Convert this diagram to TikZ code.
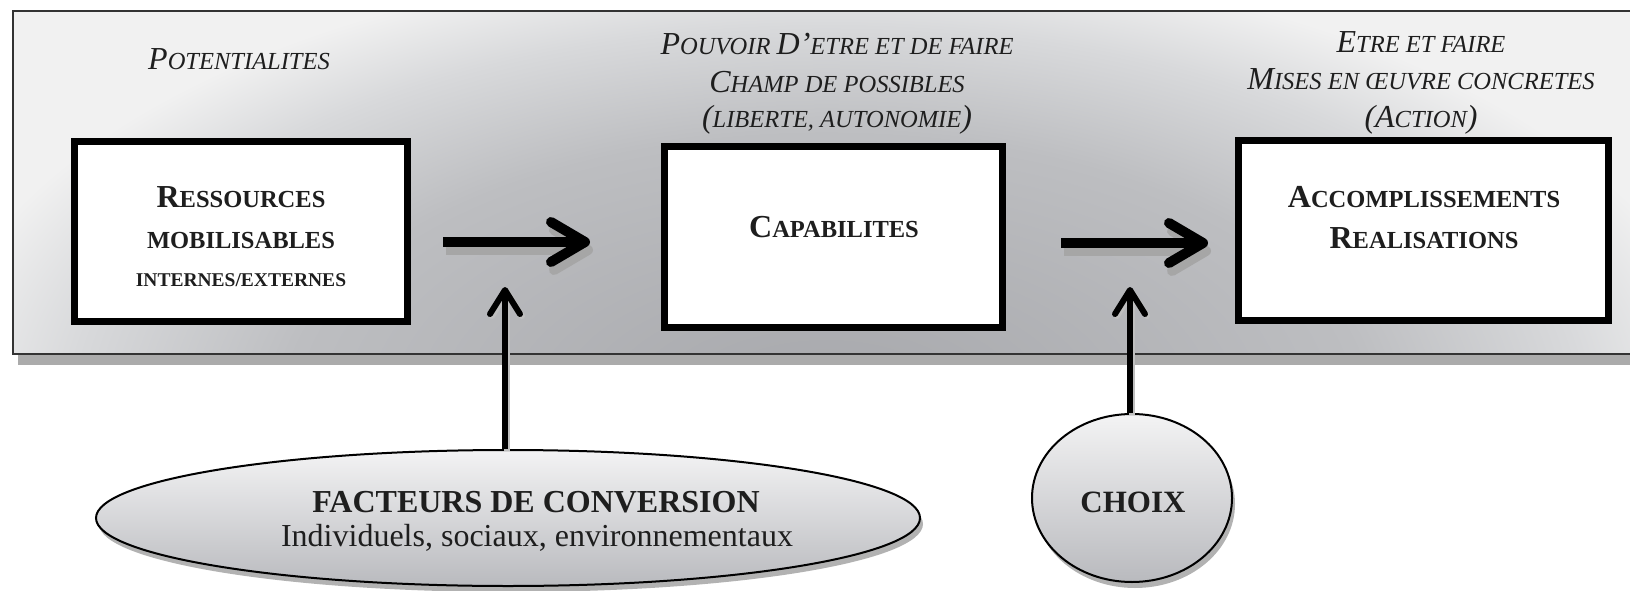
\documentclass[tikz,border=0pt]{standalone}
\usepackage{fontspec}
\setmainfont{Liberation Serif}
\usetikzlibrary{shapes.geometric,arrows.meta,shadows}
\definecolor{pcA}{HTML}{A6A7AB}
\definecolor{pcB}{HTML}{BDBEC1}
\definecolor{pcC}{HTML}{D8D9DB}
\definecolor{pcD}{HTML}{F1F1F1}
\definecolor{txt}{HTML}{1E1E1E}
\definecolor{ellTop}{HTML}{F3F3F4}
\definecolor{ellBot}{HTML}{B9BABE}
\pgfdeclareradialshading{panelshade}{\pgfpoint{0bp}{0bp}}{color(0bp)=(pcA); color(15bp)=(pcB); color(21bp)=(pcC); color(25bp)=(pcD); color(50bp)=(pcD)}
\newcommand\Bg[1]{{\fontsize{32}{36}\selectfont #1}}
\tikzset{
  box/.style={draw=black, line width=7pt, fill=white, inner sep=0pt,
    drop shadow={shadow xshift=3pt, shadow yshift=-3pt, fill=black!35, opacity=1}},
  ttl/.style={anchor=base, inner sep=0pt, text=txt, font=\fontsize{24.5}{30}\selectfont\itshape},
  btx/.style={anchor=base, inner sep=0pt, text=txt, font=\fontsize{24.5}{30}\selectfont\bfseries},
  etx/.style={anchor=base, inner sep=0pt, text=txt, font=\fontsize{32}{36}\selectfont},
  ell/.style={ellipse, draw=black, line width=2pt, inner sep=0pt,
    top color=ellTop, bottom color=ellBot,
    drop shadow={shadow xshift=3pt, shadow yshift=-6pt, fill=black!30, opacity=1}},
  harrow/.style={line width=10pt, -{Straight Barb[length=34pt,width=40pt,line width=10pt,round]}},
  varrow/.style={line width=6pt, -{Straight Barb[length=24pt,width=30pt,line width=6pt,round]}},
  shd/.style={draw=black!35, transform canvas={shift={(3pt,-8pt)}}},
  vshd/.style={draw=black!25, transform canvas={shift={(2pt,-2pt)}}},
}
\begin{document}
\begin{tikzpicture}[x=1pt,y=-1pt]
\useasboundingbox (0,0) rectangle (1630,591);
\clip (0,0) rectangle (1630,591);
% panel
\fill[black!33] (18,354) rectangle (1650,365);
\begin{scope}
  \clip (13,11) rectangle (1650,354);
  \shade[shading=panelshade] (-74,-46) rectangle (1726,854);
\end{scope}
\draw[line width=2.5pt, draw=black!80] (13,11) rectangle (1650,354);

% boxes
\node[box, minimum width=333, minimum height=180] (res) at (241,231.5) {};
\node[box, minimum width=338, minimum height=181] (cap) at (833.5,237) {};
\node[box, minimum width=370, minimum height=180] (acc) at (1423.5,230.5) {};

% titles
\node[ttl] (t1) at (239,70) {\Bg{P}OTENTIALITES};
\node[ttl] (t2a) at (837,55) {\Bg{P}OUVOIR \Bg{D’}ETRE ET DE FAIRE};
\node[ttl] (t2b) at (837,93) {\Bg{C}HAMP DE POSSIBLES};
\node[ttl] (t2c) at (837,128) {\Bg{(}LIBERTE, AUTONOMIE\Bg{)}};
\node[ttl] (t3a) at (1421,53) {\Bg{E}TRE ET FAIRE};
\node[ttl] (t3b) at (1421,90) {\Bg{M}ISES EN ŒUVRE CONCRETES};
\node[ttl] (t3c) at (1421,128) {\Bg{(A}CTION\Bg{)}};

% box texts
\node[btx] (r1) at (241,207) {\Bg{R}ESSOURCES};
\node[btx] (r2) at (241,248) {MOBILISABLES};
\node[btx, font=\fontsize{19.5}{24}\selectfont\bfseries] (r3) at (241,286) {INTERNES/EXTERNES};
\node[btx] (c1) at (834,237) {\Bg{C}APABILITES};
\node[btx] (a1) at (1424,207) {\Bg{A}CCOMPLISSEMENTS};
\node[btx] (a2) at (1424,248) {\Bg{R}EALISATIONS};

% ellipses
\node[ell, minimum width=824, minimum height=136] (fac) at (508,518) {};
\node[ell, minimum width=200, minimum height=168] (cho) at (1132,498) {};
\node[etx, font=\fontsize{32}{36}\selectfont\bfseries] (f1) at (536,512) {FACTEURS DE CONVERSION};
\node[etx] (f2) at (537,546) {Individuels, sociaux, environnementaux};
\node[etx, font=\fontsize{31}{36}\selectfont\bfseries] (ch) at (1133,512) {CHOIX};

% arrow coordinates
\coordinate (h1s) at (443,242);
\coordinate (h1e) at (590,242);
\coordinate (h2s) at (1061,243);
\coordinate (h2e) at (1208,243);
\coordinate (v1e) at (505,287);
\coordinate (v2e) at (1130,287);

% shadows
\draw[harrow, shd] (h1s) -- (h1e);
\draw[harrow, shd] (h2s) -- (h2e);
\draw[varrow, vshd] (v1e |- fac.north) -- (v1e);
\draw[varrow, vshd] (v2e |- cho.north) -- (v2e);
% arrows
\draw[harrow] (h1s) -- (h1e);
\draw[harrow] (h2s) -- (h2e);
\draw[varrow] (v1e |- fac.north) -- (v1e);
\draw[varrow] (v2e |- cho.north) -- (v2e);
\end{tikzpicture}
\end{document}
